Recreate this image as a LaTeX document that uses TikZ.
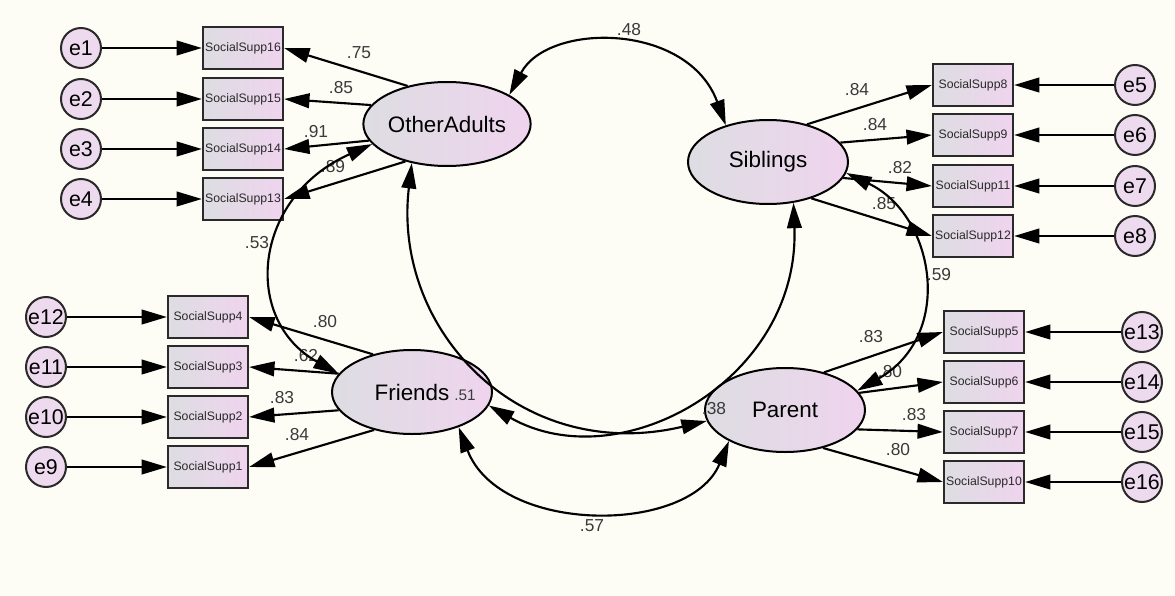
\documentclass[tikz,border=0pt]{standalone}
\usepackage{fontspec}
\setmainfont{Liberation Sans}
\usetikzlibrary{arrows.meta,shapes.geometric}
\definecolor{bg}{HTML}{FDFDF6}
\definecolor{latL}{HTML}{DDDDE2}
\definecolor{latR}{HTML}{EFD4EE}
\definecolor{errc}{HTML}{EEDAEE}
\definecolor{ink}{HTML}{2A2A2A}
\definecolor{numc}{HTML}{3A3A3A}
\tikzset{
  latent/.style={ellipse, draw=black, line width=1.5pt, minimum width=120pt,
    minimum height=63pt, inner sep=0pt, left color=latL, right color=latR,
    font=\fontsize{16.8}{17}\selectfont},
  item/.style={rectangle, draw=ink, line width=1.7pt, minimum width=60pt,
    minimum height=31pt, inner sep=0pt, left color=latL, right color=latR,
    font=\fontsize{9.2}{10}\selectfont, text=ink},
  err/.style={circle, draw=ink, line width=1.5pt, minimum size=30pt,
    inner sep=0pt, fill=errc, font=\fontsize{16}{17}\selectfont},
  tip/.tip={Triangle[length=19pt,width=11pt]},
  load/.style={line width=1.6pt, -tip},
  cov/.style={line width=1.6pt, tip-tip},
  coef/.style={font=\fontsize{13}{14}\selectfont, text=numc, inner sep=0pt},
  smallcoef/.style={font=\fontsize{11.5}{12}\selectfont, text=numc, inner sep=0pt},
}
\begin{document}
\begin{tikzpicture}[x=0.75pt,y=-0.75pt]
\fill[bg] (0,0) rectangle (1175,596);
\useasboundingbox (0,0) rectangle (1175,596);

% latent factors
\node[latent] (OA)  at (447,124) {OtherAdults};
\node[latent] (Sib) at (768,162) {Siblings};
\node[latent] (Fr)  at (412,392) {Friends\hspace{24pt}};
\node[latent] (Par) at (785,410) {Parent};

% OtherAdults indicators
\node[item] (b16) at (243,48)  {SocialSupp16};
\node[item] (b15) at (243,99)  {SocialSupp15};
\node[item] (b14) at (243,149) {SocialSupp14};
\node[item] (b13) at (243,199) {SocialSupp13};
\node[err] (e1) at (81,48)  {e1};
\node[err] (e2) at (81,99)  {e2};
\node[err] (e3) at (81,149) {e3};
\node[err] (e4) at (81,199) {e4};

% Siblings indicators
\node[item] (b8)  at (973,85)  {SocialSupp8};
\node[item] (b9)  at (973,135) {SocialSupp9};
\node[item] (b11) at (973,186) {SocialSupp11};
\node[item] (b12) at (973,236) {SocialSupp12};
\node[err] (e5) at (1135,85)  {e5};
\node[err] (e6) at (1135,135) {e6};
\node[err] (e7) at (1135,186) {e7};
\node[err] (e8) at (1135,236) {e8};

% Friends indicators
\node[item] (b4) at (208,317) {SocialSupp4};
\node[item] (b3) at (208,367) {SocialSupp3};
\node[item] (b2) at (208,417) {SocialSupp2};
\node[item] (b1) at (208,467) {SocialSupp1};
\node[err] (e12) at (46,317) {e12};
\node[err] (e11) at (46,367) {e11};
\node[err] (e10) at (46,417) {e10};
\node[err] (e9)  at (46,467) {e9};

% Parent indicators
\node[item] (b5)  at (984,332) {SocialSupp5};
\node[item] (b6)  at (984,382) {SocialSupp6};
\node[item] (b7)  at (984,432) {SocialSupp7};
\node[item] (b10) at (984,482) {SocialSupp10};
\node[err] (e13) at (1142,332) {e13};
\node[err] (e14) at (1142,382) {e14};
\node[err] (e15) at (1142,432) {e15};
\node[err] (e16) at (1142,482) {e16};

% coefficients
\node[coef] (c75)  at (359,53)  {.75};
\node[coef] (c85a) at (341,88)  {.85};
\node[coef] (c91)  at (316,132) {.91};
\node[coef] (c89)  at (333,167) {.89};
\node[coef] (c48)  at (629,30)  {.48};
\node[coef] (c84a) at (857,90)  {.84};
\node[coef] (c84b) at (875,125) {.84};
\node[coef] (c82)  at (900,168) {.82};
\node[coef] (c85b) at (884,204) {.85};
\node[coef] (c53)  at (257,243) {.53};
\node[coef] (c80a) at (325,322) {.80};
\node[coef] (c62)  at (306,356) {.62};
\node[coef] (c83a) at (282,398) {.83};
\node[coef] (c84c) at (297,435) {.84};
\node[smallcoef] (c51) at (465,395) {.51};
\node[coef] (c38)  at (714,409) {.38};
\node[coef] (c59)  at (939,275) {.59};
\node[coef] (c83b) at (871,337) {.83};
\node[coef] (c80b) at (890,372) {.80};
\node[coef] (c83c) at (914,415) {.83};
\node[coef] (c80c) at (898,450) {.80};
\node[coef] (c57)  at (592,526) {.57};

% error terms
\foreach \e/\b in {e1/b16,e2/b15,e3/b14,e4/b13,e5/b8,e6/b9,e7/b11,e8/b12,
                   e12/b4,e11/b3,e10/b2,e9/b1,e13/b5,e14/b6,e15/b7,e16/b10}
  \draw[load] (\e) -- (\b);

% factor loadings
\draw[load] (OA.136) -- (b16.east);
\draw[load] (OA.166) -- (b15.east);
\draw[load] (OA.192) -- (b14.east);
\draw[load] (OA.222) -- (b13.east);
\draw[load] (Sib.44)  -- (b8.west);
\draw[load] (Sib.15)  -- (b9.west);
\draw[load] (Sib.-12) -- (b11.west);
\draw[load] (Sib.-40) -- (b12.west);
\draw[load] (Fr.136) -- (b4.east);
\draw[load] (Fr.166) -- (b3.east);
\draw[load] (Fr.194) -- (b2.east);
\draw[load] (Fr.225) -- (b1.east);
\draw[load] (Par.44)  -- (b5.west);
\draw[load] (Par.13)  -- (b6.west);
\draw[load] (Par.-15) -- (b7.west);
\draw[load] (Par.-45) -- (b10.west);

% covariances
\draw[cov] (OA.25) .. controls (548,22) and (688,22) .. (Sib.139);
\draw[cov] (OA.195) .. controls (252,198) and (242,320) .. (Fr.166);
\draw[cov] (OA.228) .. controls (392,330) and (520,465) .. (Par.188);
\draw[cov] (Sib.302) .. controls (800,380) and (620,480) .. (Fr.350);
\draw[cov] (Sib.352) .. controls (935,215) and (955,335) .. (Par.15);
\draw[cov] (Fr.323) .. controls (500,535) and (690,535) .. (Par.209);
\end{tikzpicture}
\end{document}
